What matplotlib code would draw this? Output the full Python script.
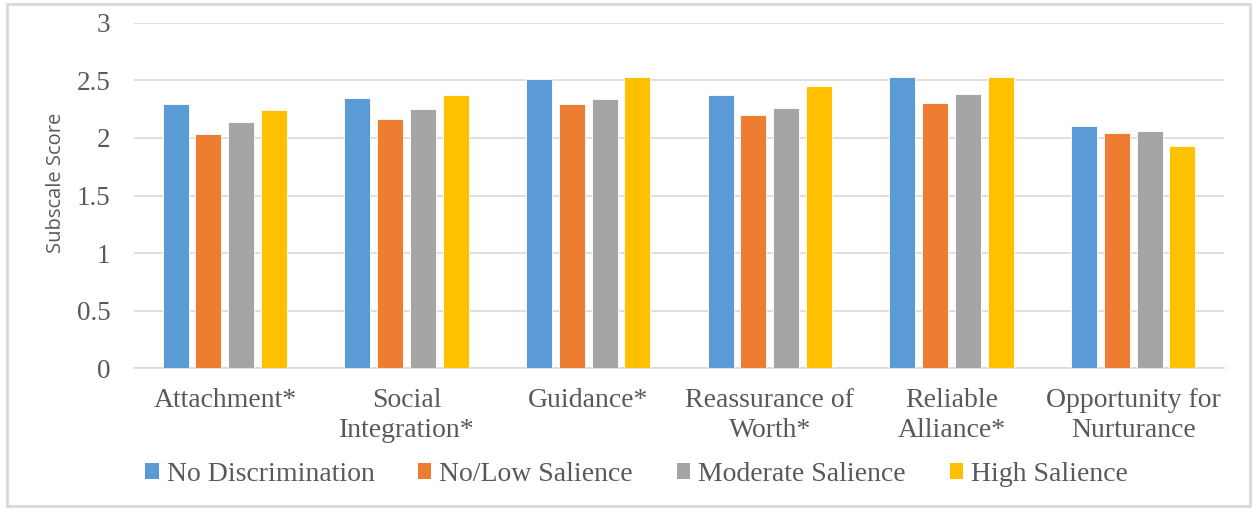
import numpy as np
import matplotlib.pyplot as plt
from matplotlib.patches import Rectangle, Patch

categories = ['Attachment*', 'Social\nIntegration*', 'Guidance*', 'Reassurance of\nWorth*',
              'Reliable\nAlliance*', 'Opportunity for\nNurturance']
series = ['No Discrimination', 'No/Low Salience', 'Moderate Salience', 'High Salience']
no_disc = [2.29, 2.35, 2.51, 2.37, 2.53, 2.10]
no_low = [2.03, 2.16, 2.29, 2.20, 2.30, 2.04]
moderate = [2.14, 2.25, 2.34, 2.26, 2.38, 2.06]
high = [2.24, 2.37, 2.53, 2.45, 2.53, 1.93]
yticks = [0, 0.5, 1, 1.5, 2, 2.5, 3]
ytick_labels = ['0', '0.5', '1', '1.5', '2', '2.5', '3']

colors = ['#5B9BD5', '#ED7D31', '#A5A5A5', '#FFC000']
txt = '#595959'
serif = ['Liberation Serif', 'DejaVu Serif']

fig = plt.figure(figsize=(12.54, 5.09), dpi=100)
ax = fig.add_axes([134/1254, 1-368.3/509, 1090/1254, 345.6/509])

x = np.arange(len(categories))
step = 0.18
w = 0.143
for i, vals in enumerate([no_disc, no_low, moderate, high]):
    ax.bar(x + (i - 1.5)*step, vals, w, color=colors[i], edgecolor='white', linewidth=0.6, zorder=3)

ax.set_xlim(-0.5, 5.5)
ax.set_ylim(0, 3)
ax.set_yticks(yticks)
ax.set_yticklabels(ytick_labels, fontfamily=serif, fontsize=19.5, color=txt)
ax.set_xticks(x)
ax.set_xticklabels(categories, fontfamily=serif, fontsize=20, color=txt, linespacing=1.3)
ax.tick_params(axis='x', length=0, pad=14)
ax.tick_params(axis='y', length=0, pad=17)
ax.grid(axis='y', color='#D9D9D9', linewidth=1.2, zorder=0)
for s in ['top', 'right', 'left']:
    ax.spines[s].set_visible(False)
ax.spines['bottom'].set_color('#D9D9D9')
ax.spines['bottom'].set_linewidth(1.2)
ax.set_ylabel('Subscale Score', fontfamily=['Open Sans', 'DejaVu Sans'], fontsize=14.5, color=txt)
ax.yaxis.set_label_coords(-0.062, 0.536)

handles = [Patch(facecolor=c, edgecolor='none') for c in colors]
fig.legend(handles, series, loc='center', bbox_to_anchor=(636.5/1254, 1-474.5/509), ncol=4, frameon=False,
           prop={'family': serif, 'size': 20}, labelcolor=txt, handlelength=0.47, handleheight=0.47,
           handletextpad=0.29, columnspacing=1.58, borderpad=0, borderaxespad=0)

fig.patches.append(Rectangle((7/1254, 0.005), 1-8/1254-0.002, 1-4/509-0.005, transform=fig.transFigure,
                             fill=False, edgecolor='#D9D9D9', linewidth=2))

fig.savefig('out.png', dpi=100)
